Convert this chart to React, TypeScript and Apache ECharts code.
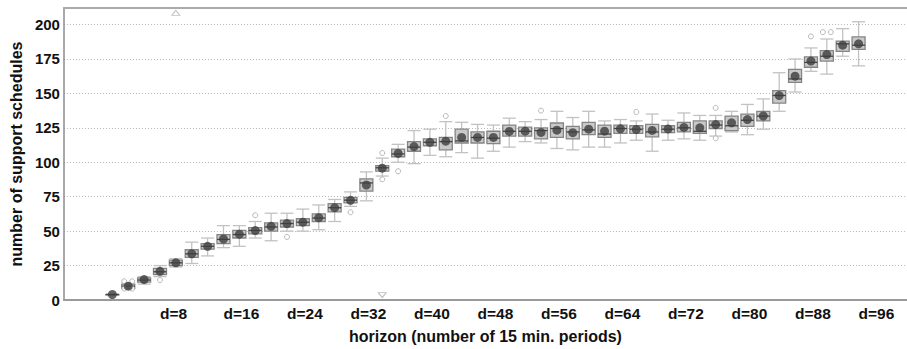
import React, { useEffect, useRef } from "react";
import * as echarts from "echarts";

// horizon d values (number of 15 min. periods)
const horizons = [2,4,6,8,10,12,14,16,18,20,22,24,26,28,30,32,34,36,38,40,42,44,46,48,50,52,54,56,58,60,62,64,66,68,70,72,74,76,78,80,82,84,86,88,90,92,94,96];
const whiskerLow = [4,8,11.5,17,24,26.5,32,38,39,45,43,50,50,51,57,68,72,90,100,99,105,104,107,103,108,111,115,114,110,109,111,111,114,116,108,116,117,116,119,122,120,124,137,151,166,164,177,170];
const quartile1 = [4,8.5,13,18.5,25,31,37,41,45,48,50,53,54,57,64,70.5,79,93.5,104,108,112,109,114,114,113.5,119,119,117,118,117,120,118,121,121,118.5,121.5,122,121,124.5,123,126,130,143,158,169,173.5,180.5,182];
const medians = [4,10,14.5,20.5,27,33.5,39,44,47.5,50.5,53,55.5,56.5,59.5,67,72.5,85,96,106,111,114.5,115,115.5,118,117.5,122.5,122.5,123,124.5,122,123.5,120.5,124.5,124,122,124,125,122.5,127,126.5,130.5,133.5,148.5,160.5,172.5,177,186,185];
const quartile3 = [4,11.5,16,23,29,36.5,41,47.5,50.5,52.5,56,58,59,62.5,70,74.5,88,97.5,109.5,115,117,118,124,122,122.5,127,125.5,125,128.5,126,129,127,127,126.5,127.5,126.5,129,130,130,133.5,135,137,152,167.5,176.5,181,188,191];
const whiskerHigh = [4,12.5,17,25,30,42,45,54,54,57,63,63,66,69,73,78.5,93,103,113,123,124,129.5,129,127.5,127,132,129.5,131,137,132.5,137,130,131,130,135,130.5,135.8,134,134,137,142,146,165,175,183,189.5,197,202];
const means = [4,10,14.8,20.8,27,33.5,39,44.3,47.8,50.4,53.5,55.5,56.5,59.8,67,72.4,83.5,95.7,106.4,111.4,114.5,115.3,118,118,118,122.4,122.6,121.7,123.3,121.5,124,122.6,124.3,123.8,123.1,124.2,125.3,125,127.4,128.6,131,133.6,148.4,162.5,173.5,178.2,185,186];

// outliers: [horizon position, value]
const outlierPoints = [
  [3.5, 13.6], [4.5, 13.6], [3.5, 8.3], [4.5, 8.3],
  [8, 14.5], [20, 61.5], [24, 45.8], [32, 63.7],
  [36, 106.7], [36, 87.6], [38, 93.5], [44, 133.6],
  [56, 137.5], [68, 136.5], [78, 139.5], [78, 117.4],
  [90, 191.4], [91.5, 194.5], [92.5, 194.5],
];
// off-scale markers: [horizon, value]
const offScaleHigh = [[10, 208.5]];
const offScaleLow = [[36, 3.6]];

const yTicks = [0, 25, 50, 75, 100, 125, 150, 175, 200];
const xLabelValues = [8, 16, 24, 32, 40, 48, 56, 64, 72, 80, 88, 96];

const FONT = "'Liberation Sans', Arial, Helvetica, sans-serif";

export default function App() {
  const ref = useRef<HTMLDivElement>(null);

  useEffect(() => {
    if (!ref.current) return;
    const chart = echarts.init(ref.current, null, { renderer: "svg" });

    const boxData = horizons.map((d, i) => [
      d, whiskerLow[i], quartile1[i], medians[i], quartile3[i], whiskerHigh[i],
    ]);

    const option: any = {
      animation: false,
      backgroundColor: "#ffffff",
      grid: { left: 59, right: -12, top: 8, bottom: 45, containLabel: false },
      xAxis: [
        {
          type: "value",
          min: -4.1,
          max: 102.1,
          position: "bottom",
          axisLine: { show: true, onZero: false, lineStyle: { color: "#9a9a9a", width: 2 } },
          axisTick: { show: false },
          splitLine: { show: false },
          axisLabel: {
            customValues: xLabelValues,
            formatter: (v: number) => "d=" + v,
            align: "left",
            margin: 5,
            color: "#111",
            fontWeight: "bold",
            fontSize: 15.5,
            fontFamily: FONT,
          },
          name: "horizon (number of 15 min. periods)",
          nameLocation: "middle",
          nameGap: 28,
          nameTextStyle: { color: "#111", fontWeight: "bold", fontSize: 16, fontFamily: FONT },
        },
        {
          type: "value",
          min: -4.1,
          max: 102.1,
          position: "top",
          axisLine: { show: true, onZero: false, lineStyle: { color: "#aaaaaa", width: 2 } },
          axisTick: { show: false },
          axisLabel: { show: false },
          splitLine: { show: false },
        },
      ],
      yAxis: {
        type: "value",
        min: 0,
        max: 212,
        interval: 25,
        position: "left",
        axisLine: { show: true, onZero: false, lineStyle: { color: "#8c8c8c", width: 1.5 } },
        axisTick: { show: false },
        splitLine: { show: true, lineStyle: { color: "#b8b8b8", width: 1, type: [1, 2] } },
        axisLabel: {
          showMaxLabel: false,
          formatter: (v: number) => (yTicks.includes(v) ? String(v) : ""),
          margin: 4,
          color: "#111",
          fontWeight: "bold",
          fontSize: 15,
          fontFamily: FONT,
        },
        name: "number of support schedules",
        nameLocation: "middle",
        nameGap: 33,
        nameTextStyle: { color: "#111", fontWeight: "bold", fontSize: 16, fontFamily: FONT },
      },
      series: [
        {
          type: "custom",
          xAxisIndex: 0,
          data: boxData,
          encode: { x: 0, y: [1, 2, 3, 4, 5] },
          renderItem: (params: any, api: any) => {
            const d = api.value(0);
            const x = api.coord([d, api.value(1)])[0];
            const yMin = api.coord([d, api.value(1)])[1];
            const yQ1 = api.coord([d, api.value(2)])[1];
            const yMed = api.coord([d, api.value(3)])[1];
            const yQ3 = api.coord([d, api.value(4)])[1];
            const yMax = api.coord([d, api.value(5)])[1];
            const hw = 6.5;
            const wStyle = { stroke: "#c2c2c2", lineWidth: 1.3 };
            return {
              type: "group",
              children: [
                { type: "line", shape: { x1: x, y1: yQ1, x2: x, y2: yMin }, style: wStyle },
                { type: "line", shape: { x1: x, y1: yQ3, x2: x, y2: yMax }, style: wStyle },
                { type: "line", shape: { x1: x - hw, y1: yMin, x2: x + hw, y2: yMin }, style: wStyle },
                { type: "line", shape: { x1: x - hw, y1: yMax, x2: x + hw, y2: yMax }, style: wStyle },
                {
                  type: "rect",
                  shape: { x: x - hw, y: yQ3, width: hw * 2, height: Math.max(yQ1 - yQ3, 0.5) },
                  style: { fill: "#c9c9c9", stroke: "#858585", lineWidth: 1.3 },
                },
                {
                  type: "line",
                  shape: { x1: x - hw, y1: yMed, x2: x + hw, y2: yMed },
                  style: { stroke: "#444444", lineWidth: 1.3 },
                },
              ],
            };
          },
          z: 2,
        },
        {
          type: "scatter",
          data: horizons.map((d, i) => [d, means[i]]),
          symbol: "circle",
          symbolSize: 9,
          itemStyle: { color: "#3d3d3d" },
          z: 4,
        },
        {
          type: "scatter",
          data: outlierPoints,
          symbol: "circle",
          symbolSize: 5,
          itemStyle: { color: "#ffffff", borderColor: "#a8a8a8", borderWidth: 1 },
          z: 3,
        },
        {
          type: "scatter",
          data: offScaleHigh,
          symbol: "triangle",
          symbolSize: [8, 5],
          itemStyle: { color: "#ffffff", borderColor: "#b0b0b0", borderWidth: 1 },
          z: 3,
        },
        {
          type: "scatter",
          data: offScaleLow,
          symbol: "triangle",
          symbolRotate: 180,
          symbolSize: [8, 5],
          itemStyle: { color: "#ffffff", borderColor: "#b0b0b0", borderWidth: 1 },
          z: 3,
        },
      ],
    };

    chart.setOption(option);
    return () => chart.dispose();
  }, []);

  return (
    <div
      ref={ref}
      style={{ position: "fixed", left: 0, top: 0, width: 907, height: 349, background: "#fff" }}
    />
  );
}
